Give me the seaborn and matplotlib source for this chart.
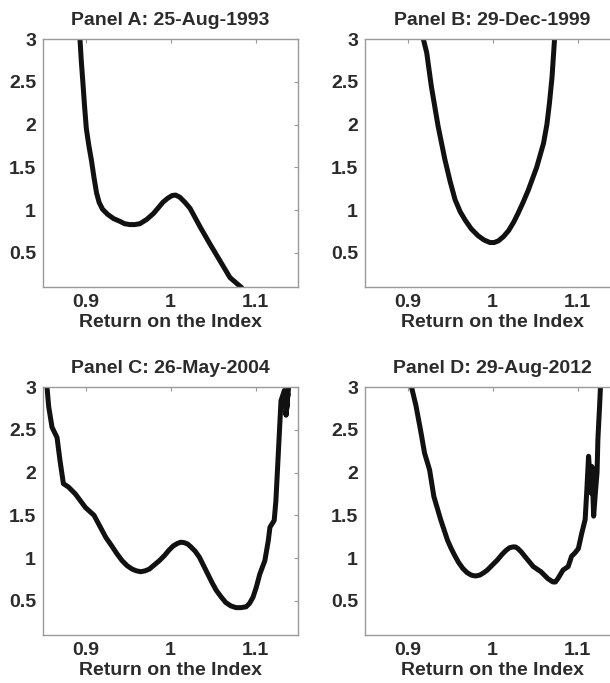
import numpy as np
import pandas as pd
import matplotlib
matplotlib.use("Agg")
import matplotlib.pyplot as plt
import seaborn as sns

# values (x = return on the index, y = pricing kernel)
a_x = [0.8935, 0.895, 0.897, 0.899, 0.901, 0.904, 0.907, 0.910, 0.913, 0.916,
       0.920, 0.926, 0.933, 0.940, 0.946, 0.952, 0.958, 0.964, 0.972, 0.980,
       0.986, 0.991, 0.997, 1.002, 1.006, 1.011, 1.017, 1.023, 1.029, 1.035,
       1.046, 1.058, 1.070, 1.084]
a_y = [3.00, 2.75, 2.48, 2.20, 1.95, 1.75, 1.58, 1.38, 1.20, 1.09,
       1.01, 0.95, 0.90, 0.87, 0.84, 0.83, 0.83, 0.84, 0.89, 0.96,
       1.03, 1.09, 1.14, 1.17, 1.175, 1.15, 1.09, 1.02, 0.91, 0.80,
       0.61, 0.41, 0.21, 0.09]

b_x = [0.9186, 0.9226, 0.928, 0.936, 0.944, 0.950, 0.956, 0.962, 0.968, 0.975,
       0.983, 0.990, 0.997, 1.002, 1.007, 1.013, 1.019, 1.025, 1.030, 1.036,
       1.042, 1.052, 1.060, 1.064, 1.067, 1.070, 1.073]
b_y = [3.00, 2.84, 2.45, 1.98, 1.59, 1.34, 1.12, 0.98, 0.88, 0.78,
       0.70, 0.65, 0.62, 0.62, 0.64, 0.69, 0.76, 0.86, 0.96, 1.09,
       1.23, 1.50, 1.78, 2.00, 2.25, 2.55, 3.00]

c_x = [0.8547, 0.8567, 0.8606, 0.8665, 0.870, 0.874, 0.880, 0.888, 0.900, 0.910,
       0.917, 0.924, 0.931, 0.937, 0.943, 0.949, 0.955, 0.960, 0.965, 0.970,
       0.975, 0.981, 0.987, 0.993, 0.998, 1.003, 1.008, 1.012, 1.016, 1.020,
       1.024, 1.029, 1.034, 1.039, 1.044, 1.049, 1.054, 1.060, 1.065, 1.071,
       1.077, 1.083, 1.089, 1.093, 1.097, 1.101, 1.105, 1.111, 1.115, 1.117,
       1.122, 1.124, 1.126, 1.128, 1.130, 1.134, 1.136, 1.138, 1.136, 1.139]
c_y = [3.00, 2.77, 2.53, 2.41, 2.14, 1.87, 1.83, 1.75, 1.59, 1.50,
       1.37, 1.24, 1.14, 1.05, 0.97, 0.91, 0.87, 0.85, 0.84, 0.85,
       0.87, 0.92, 0.97, 1.03, 1.09, 1.14, 1.17, 1.185, 1.18, 1.165,
       1.13, 1.08, 1.01, 0.91, 0.81, 0.71, 0.62, 0.54, 0.48, 0.44,
       0.42, 0.42, 0.43, 0.47, 0.54, 0.66, 0.81, 0.97, 1.20, 1.36,
       1.44, 1.67, 2.06, 2.45, 2.84, 2.96, 2.67, 2.92, 2.68, 3.00]

d_x = [0.9047, 0.910, 0.916, 0.920, 0.926, 0.931, 0.939, 0.947, 0.951, 0.955,
       0.960, 0.965, 0.970, 0.975, 0.980, 0.985, 0.990, 0.994, 1.000, 1.006,
       1.011, 1.016, 1.020, 1.024, 1.027, 1.030, 1.034, 1.038, 1.043, 1.048,
       1.057, 1.065, 1.071, 1.074, 1.077, 1.083, 1.089, 1.093, 1.097, 1.101,
       1.105, 1.109, 1.111, 1.113, 1.115, 1.116, 1.117, 1.119, 1.121, 1.123,
       1.124, 1.126, 1.127]
d_y = [3.00, 2.78, 2.46, 2.23, 2.03, 1.72, 1.45, 1.21, 1.12, 1.04,
       0.95, 0.88, 0.83, 0.80, 0.79, 0.80, 0.83, 0.86, 0.92, 0.98,
       1.04, 1.09, 1.12, 1.13, 1.13, 1.11, 1.07, 1.02, 0.96, 0.90,
       0.84, 0.76, 0.72, 0.72, 0.76, 0.86, 0.90, 1.02, 1.06, 1.11,
       1.29, 1.45, 1.80, 2.19, 1.92, 1.76, 2.07, 1.49, 1.76, 2.00,
       2.39, 2.78, 3.00]

titles = ["Panel A: 25-Aug-1993", "Panel B: 29-Dec-1999",
          "Panel C: 26-May-2004", "Panel D: 29-Aug-2012"]
x_ticks = [0.9, 1.0, 1.1]
x_tick_labels = ["0.9", "1", "1.1"]
y_ticks = [0.5, 1.0, 1.5, 2.0, 2.5, 3.0]
y_tick_labels = ["0.5", "1", "1.5", "2", "2.5", "3"]

sns.set_style("white")
plt.rcParams['font.family'] = ['Liberation Sans', 'DejaVu Sans']
plt.rcParams['font.weight'] = 'bold'

fig = plt.figure(figsize=(6.10, 6.83), dpi=100)
W, H = 610.0, 683.0
# axes boxes in pixels: (left, top, width, height)
boxes = [(43, 39, 255, 248), (365, 39, 255, 248),
         (43, 387, 255, 248), (365, 387, 255, 248)]
series = [(a_x, a_y), (b_x, b_y), (c_x, c_y), (d_x, d_y)]

text_col = "#2b2b2b"
spine_col = "#9a9a9a"

for (l, t, w, h), (xs, ys), title in zip(boxes, series, titles):
    ax = fig.add_axes([l / W, (H - t - h) / H, w / W, h / H])
    df = pd.DataFrame({"ret": xs, "kernel": ys})
    sns.lineplot(data=df, x="ret", y="kernel", ax=ax, sort=False,
                 estimator=None, color="#111111", linewidth=3.6)
    for ln in ax.lines:
        ln.set_solid_joinstyle("round")
        ln.set_solid_capstyle("round")
    ax.set_xlim(0.85, 1.15)
    ax.set_ylim(0.1, 3.0)
    ax.set_xticks(x_ticks)
    ax.set_xticklabels(x_tick_labels)
    ax.set_yticks(y_ticks)
    ax.set_yticklabels(y_tick_labels)
    ax.tick_params(direction="in", length=3, width=0.8, color=spine_col,
                   top=True, right=True, labelsize=14, labelcolor=text_col, pad=5)
    for s in ax.spines.values():
        s.set_color(spine_col)
        s.set_linewidth(1.0)
    ax.set_title(title, fontsize=14, fontweight="bold", color=text_col, pad=10)
    ax.set_xlabel("Return on the Index", fontsize=14, fontweight="bold",
                  color=text_col, labelpad=2)
    ax.set_ylabel("")

fig.savefig("out.png", dpi=100)
